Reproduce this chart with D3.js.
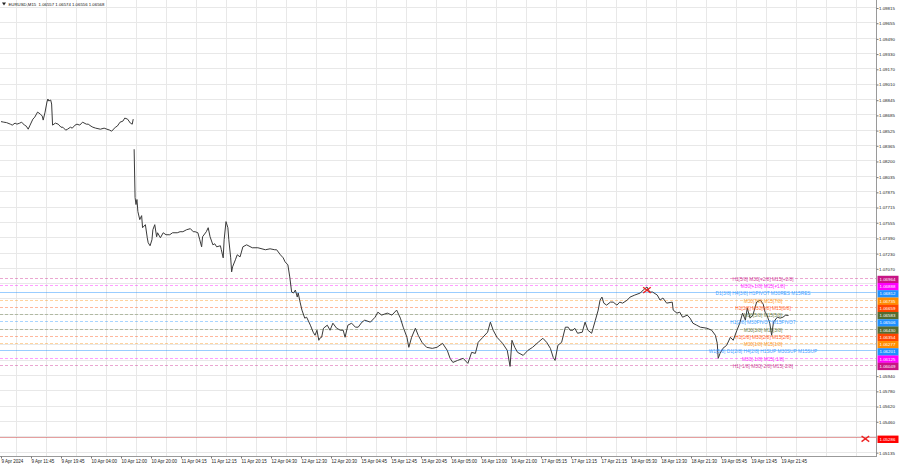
<!DOCTYPE html>
<html><head><meta charset="utf-8">
<script src="https://cdn.jsdelivr.net/npm/d3@7"></script>
<style>
body{margin:0;background:#fff}
svg{display:block}
text{font-family:"Liberation Sans",Arial,sans-serif}
</style>
</head><body>
<svg id="c" width="900" height="468"></svg>
<script>
// ---------------- DATA ----------------
const chartTitle = "EURUSD,M15  1.06557 1.06574 1.06556 1.06568";

// bar index (M15 bars from 9 Apr 2024 00:00) and close price; null = gap
const barIndex = [0,3,6,10,12,15,17,20,22,25,27,29,31,34,36,39,42,44,45,47,49,50,51,53,54,55,58,61,64,66,69,71,74,76,79,81,84,87,91,93,96,98,101,106,110,113,116,118,122,124,127,130,132,135,138,140,141,141.5,
142,143,144,145,146,148,150,151,154,156,157,159,161,162,164,166,167,170,173,176,180,183,188,191,194,198,202,205,207,210,212,214,215,219,221,223,226,228,230,234,235,237,238,240,242,243,245,246,247,250,252,255,258,262,268,274,282,287,292,294,298,301,303,306,308,310,312,314,316,317,319,321,324,326,330,333,335,337,339,340,342,344,348,351,354,358,362,365,367,370,374,378,381,385,388,394,399,402,406,412,417,422,426,429,433,435,438,442,445,449,454,460,465,471,476,479,482,487,493,498,502,506,509,514,519,522,525,529,532,535,540,543,545,548,551,557,562,567,573,578,582,586,589,591,594,598,602,605,607,610,612,615,620,623,626,630,634,637,639,641,643,646,650,653,657,660,663,668,671,676,682,685,689,692,695,700,703,706,710,716,717,721,724,727,732,735,738,742,746,753,758,762,764,765,767,770,774,778,781,785,788,791,794,796,799,802,806,810,813,815,817,820,822,824,828,831,834,837,840];
const closePrice = [1.08609,1.08603,1.08598,1.08582,1.08572,1.08593,1.08582,1.08593,1.08603,1.08572,1.08561,1.08529,1.08572,1.08635,1.08656,1.08709,1.08688,1.08667,1.08625,1.08709,1.08815,1.08847,1.08826,1.08836,1.08794,1.08572,1.08593,1.08582,1.08550,1.08550,1.08519,1.08529,1.08550,1.08540,1.08572,1.08582,1.08572,1.08603,1.08582,1.08582,1.08561,1.08550,1.08540,1.08529,1.08540,1.08529,1.08519,1.08508,1.08550,1.08561,1.08603,1.08614,1.08646,1.08635,1.08593,1.08582,1.08635,null,
1.08318,1.07810,1.07736,1.07789,1.07662,1.07577,1.07619,1.07492,1.07524,1.07386,1.07334,1.07302,1.07365,1.07471,1.07524,1.07397,1.07439,1.07386,1.07439,1.07418,1.07418,1.07439,1.07439,1.07450,1.07450,1.07471,1.07482,1.07450,1.07450,1.07439,1.07365,1.07291,1.07397,1.07450,1.07492,1.07397,1.07312,1.07323,1.07291,1.07302,1.07260,1.07175,1.07365,1.07556,1.07492,1.07365,1.07175,1.07027,1.07080,1.07154,1.07207,1.07185,1.07291,1.07312,1.07281,1.07281,1.07260,1.07270,1.07260,1.07260,1.07207,1.07175,1.07133,1.07101,1.06974,1.06815,1.06805,1.06836,1.06762,1.06805,1.06709,1.06625,1.06540,1.06550,1.06466,1.06392,1.06360,1.06413,1.06307,1.06328,1.06339,1.06434,1.06466,1.06413,1.06487,1.06434,1.06413,1.06413,1.06339,1.06466,1.06487,1.06445,1.06445,1.06498,1.06519,1.06498,1.06550,1.06603,1.06572,1.06593,1.06572,1.06625,1.06540,1.06445,1.06339,1.06233,1.06339,1.06434,1.06360,1.06286,1.06233,1.06222,1.06233,1.06275,1.06201,1.06117,1.06074,1.06095,1.06117,1.06064,1.06180,1.06169,1.06286,1.06339,1.06392,1.06498,1.06413,1.06339,1.06307,1.06275,1.06201,1.06032,1.06307,1.06233,1.06180,1.06148,1.06201,1.06233,1.06286,1.06328,1.06286,1.06222,1.06127,1.06095,1.06254,1.06286,1.06445,1.06445,1.06413,1.06413,1.06434,1.06381,1.06392,1.06498,1.06413,1.06381,1.06519,1.06625,1.06730,1.06762,1.06698,1.06677,1.06709,1.06709,1.06677,1.06709,1.06698,1.06730,1.06762,1.06783,1.06805,1.06836,1.06868,1.06815,1.06815,1.06783,1.06730,1.06752,1.06698,1.06709,1.06625,1.06593,1.06603,1.06550,1.06572,1.06540,1.06487,1.06466,1.06445,1.06434,1.06413,1.06360,1.06275,1.06117,1.06169,1.06222,1.06254,1.06339,1.06307,1.06413,1.06487,1.06593,1.06519,1.06646,1.06540,1.06572,1.06709,1.06730,1.06688,1.06603,1.06572,1.06487,1.06360,1.06498,1.06550,1.06540,1.06550,1.06572,1.06568];

// time axis labels, one every 32 bars
const timeLabels = ["9 Apr 2024","9 Apr 11:45","9 Apr 19:45","10 Apr 04:00","10 Apr 12:00","10 Apr 20:00","11 Apr 04:15","11 Apr 12:15","11 Apr 20:15","12 Apr 04:30","12 Apr 12:30","12 Apr 20:30","15 Apr 04:45","15 Apr 12:45","15 Apr 20:45","16 Apr 05:00","16 Apr 13:00","16 Apr 21:00","17 Apr 05:15","17 Apr 13:15","17 Apr 21:15","18 Apr 05:30","18 Apr 13:30","18 Apr 21:30","19 Apr 05:45","19 Apr 13:45","19 Apr 21:45"];
const labelEveryBars = 32;

// price axis ticks with visible labels, and grid-only ticks hidden behind the level boxes
const priceTicks = [1.09815,1.09655,1.09490,1.09330,1.09170,1.09010,1.08845,1.08685,1.08525,1.08365,1.08200,1.08035,1.07875,1.07715,1.07555,1.07390,1.07230,1.07070,1.05940,1.05780,1.05620,1.05460,1.05135];
const coveredTicks = [1.06910,1.06750,1.06585,1.06425,1.06265,1.06100,1.05300];

// Murrey-math style levels
const levelPrices = [1.06964,1.06888,1.06812,1.06735,1.06659,1.06583,1.06506,1.06430,1.06354,1.06277,1.06201,1.06125,1.06049];
const levelNames = ["H1[5/8] M30[+2/8] M15[+2/8]","M30[+1/8] M15[+1/8]","D1[3/8] H4[3/8] H1PIVOT M30RES M15RES","M30[7/8] M15[7/8]","H1[3/8] M30[6/8] M15[6/8]","M30[5/8] M15[5/8]","H1[2/8] M30PIVOT M15PIVOT","M30[3/8] M15[3/8]","H1[1/8] M30[2/8] M15[2/8]","M30[1/8] M15[1/8]","W1[5/8] D1[2/8] H4[2/8] H1SUP M30SUP M15SUP","M30[-1/8] M15[-1/8]","H1[-1/8] M30[-2/8] M15[-2/8]"];

// red stop line and cross marks
const stopPrice = 1.05286;
const crossBars = [689, 922];
const crossPrices = [1.06835, 1.05270];

// ---------------- STYLE ----------------
const levelColors = ["#c71585","#ff00ff","#1e90ff","#ff8c00","#ff4500","#556b2f","#1e90ff","#556b2f","#ff4500","#ff8c00","#1e90ff","#ff00ff","#c71585"];
const levelSolid = [false,false,true,false,false,false,false,false,false,false,true,false,false];

// ---------------- CHART ----------------
const plotR = 876, plotB = 456;
const svg = d3.select("#c");
const x = d3.scaleLinear().domain([0, labelEveryBars]).range([1, 31]);
const y = d3.scaleLinear().domain([1.05089, 1.09889]).range([plotB, 0]);

svg.append("clipPath").attr("id","clip").append("rect").attr("x",0).attr("y",0).attr("width",plotR).attr("height",plotB);
const plot = svg.append("g").attr("clip-path","url(#clip)");

// grid
const tickBars = timeLabels.map((d,i)=>i*labelEveryBars);
plot.append("g").selectAll("line").data(d3.range(0, 29)).join("line")
  .attr("x1", i=>Math.round(x(i*labelEveryBars + labelEveryBars/2))+0.5).attr("x2", i=>Math.round(x(i*labelEveryBars + labelEveryBars/2))+0.5)
  .attr("y1",0).attr("y2",plotB).attr("stroke","#e8e8e8").attr("stroke-width",1);
plot.append("g").selectAll("line").data(priceTicks.concat(coveredTicks)).join("line")
  .attr("x1",0).attr("x2",plotR).attr("y1",d=>Math.round(y(d))+0.5).attr("y2",d=>Math.round(y(d))+0.5)
  .attr("stroke","#e8e8e8").attr("stroke-width",1);

// level lines
plot.append("g").selectAll("line").data(levelPrices).join("line")
  .attr("x1",0).attr("x2",plotR).attr("y1",d=>Math.round(y(d))+0.5).attr("y2",d=>Math.round(y(d))+0.5)
  .attr("stroke",(d,i)=>levelColors[i]).attr("stroke-opacity",(d,i)=>levelSolid[i]?0.45:0.38)
  .attr("stroke-dasharray",(d,i)=>levelSolid[i]?null:"3,2").attr("stroke-width",1);

// stop line
plot.append("line").attr("x1",0).attr("x2",plotR).attr("y1",Math.round(y(stopPrice))+0.5).attr("y2",Math.round(y(stopPrice))+0.5)
  .attr("stroke","#d05050").attr("stroke-opacity",0.55).attr("stroke-width",1);

// price line
const pts = barIndex.map((b,i)=>[b, closePrice[i]]);
const line = d3.line().defined(d=>d[1]!==null).x(d=>x(d[0])).y(d=>y(d[1]));
plot.append("path").datum(pts).attr("d",line).attr("fill","none").attr("stroke","#3a3a3a").attr("stroke-width",1).attr("stroke-linejoin","round");

// level texts
plot.append("g").selectAll("text").data(levelPrices).join("text")
  .attr("x",763).attr("y",d=>y(d)+1.5).attr("text-anchor","middle").attr("dominant-baseline","central")
  .attr("font-size",4.8).attr("fill",(d,i)=>levelColors[i]).attr("fill-opacity",0.85)
  .text((d,i)=>levelNames[i]);

// cross marks
const cr = 3.8;
const crosses = plot.append("g").selectAll("g").data(crossBars).join("g")
  .attr("transform",(d,i)=>`translate(${x(d)},${y(crossPrices[i])})`);
crosses.append("line").attr("x1",-cr).attr("y1",-cr*0.75).attr("x2",cr).attr("y2",cr*0.75).attr("stroke","#ee2020").attr("stroke-width",1.4);
crosses.append("line").attr("x1",-cr).attr("y1",cr*0.75).attr("x2",cr).attr("y2",-cr*0.75).attr("stroke","#ee2020").attr("stroke-width",1.4);

// frame
svg.append("line").attr("x1",plotR+0.5).attr("x2",plotR+0.5).attr("y1",0).attr("y2",plotB+1).attr("stroke","#9a9a9a");
svg.append("line").attr("x1",0).attr("x2",plotR+1).attr("y1",plotB+0.5).attr("y2",plotB+0.5).attr("stroke","#9a9a9a");

// price axis
const yAxis = d3.axisRight(y).tickValues(priceTicks).tickFormat(d3.format(".5f")).tickSize(2).tickPadding(0.5);
const ya = svg.append("g").attr("transform",`translate(${plotR+0.5},1)`).call(yAxis);
ya.select(".domain").remove();
ya.selectAll("line").attr("stroke","#777");
ya.selectAll("text").attr("font-size",4.4).attr("fill","#222").attr("x",2.5);

// time axis
const xAxis = d3.axisBottom(x).tickValues(tickBars).tickFormat((d,i)=>timeLabels[i]).tickSize(2).tickPadding(1.5);
const xa = svg.append("g").attr("transform",`translate(0,${plotB+0.5})`).call(xAxis);
xa.select(".domain").remove();
xa.selectAll("line").attr("stroke","#777");
xa.selectAll("text").attr("font-size",4.5).attr("fill","#222").attr("text-anchor","start");

// level value boxes
const boxes = svg.append("g").selectAll("g").data(levelPrices).join("g")
  .attr("transform",d=>`translate(${plotR+1.5},${y(d)+1.6})`);
boxes.append("rect").attr("x",0).attr("y",-3.7).attr("width",21).attr("height",7.4).attr("fill",(d,i)=>levelColors[i]);
boxes.append("text").attr("x",2).attr("y",0).attr("dominant-baseline","central").attr("font-size",4.4).attr("fill","#fff").text(d=>d3.format(".5f")(d));

const sb = svg.append("g").attr("transform",`translate(${plotR+1.5},${y(stopPrice)+2})`);
sb.append("rect").attr("x",0).attr("y",-3.7).attr("width",21).attr("height",7.4).attr("fill","#ff0000");
sb.append("text").attr("x",2).attr("y",0).attr("dominant-baseline","central").attr("font-size",4.4).attr("fill","#fff").text(d3.format(".5f")(stopPrice));

// title
svg.append("path").attr("d","M2,2.5 L6,2.5 L4,5.5 Z").attr("fill","#222");
svg.append("text").attr("x",8.5).attr("y",5.6).attr("font-size",4.3).attr("fill","#111").attr("xml:space","preserve").text(chartTitle);
</script>
</body></html>
